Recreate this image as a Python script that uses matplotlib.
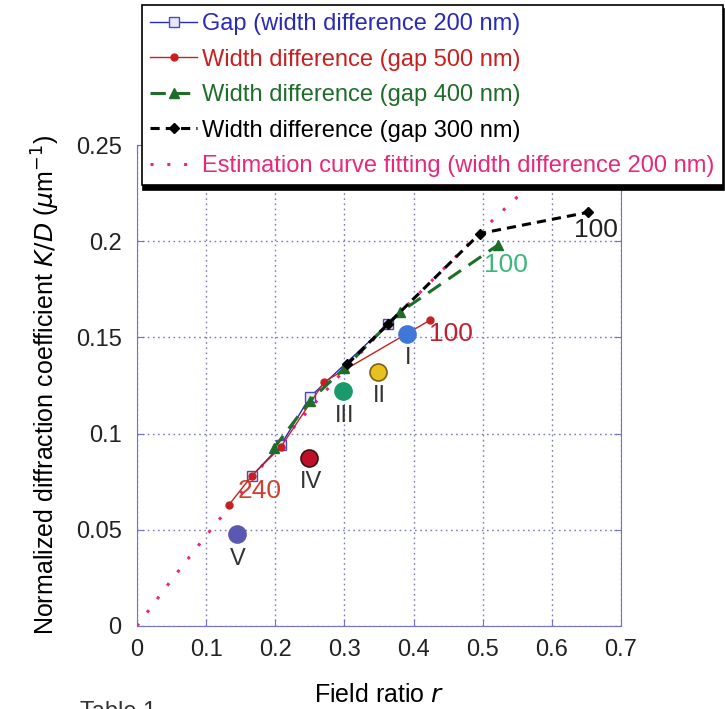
import matplotlib.pyplot as plt
import numpy as np

plt.rcParams['font.family'] = ['Liberation Sans', 'DejaVu Sans']

# gap series (width difference 200 nm)
gap_r = [0.166, 0.208, 0.250, 0.363]
gap_kd = [0.078, 0.094, 0.119, 0.157]

# width difference, gap 500 nm
w500_r = [0.133, 0.166, 0.208, 0.271, 0.424]
w500_kd = [0.063, 0.078, 0.093, 0.127, 0.159]

# width difference, gap 400 nm
w400_r = [0.198, 0.250, 0.300, 0.380, 0.522]
w400_kd = [0.0925, 0.117, 0.134, 0.163, 0.198]

# width difference, gap 300 nm
w300_r = [0.304, 0.363, 0.496, 0.652]
w300_kd = [0.136, 0.157, 0.204, 0.215]

# estimation curve
fit_r = [0, 0.05, 0.1, 0.15, 0.2, 0.25, 0.3, 0.35, 0.4, 0.45, 0.5, 0.55, 0.6]
fit_kd = [0, 0.024, 0.047, 0.069, 0.092, 0.113, 0.133, 0.152, 0.170, 0.188, 0.206, 0.223, 0.240]

# measured samples I..V
samp_names = ['I', 'II', 'III', 'IV', 'V']
samp_r = [0.390, 0.349, 0.298, 0.249, 0.144]
samp_kd = [0.152, 0.132, 0.122, 0.0875, 0.0477]
samp_col = ['#3f78d8', '#e8c020', '#1a9a6a', '#c01028', '#5a58b0']
samp_edge = ['#3f78d8', '#806010', '#1a9a6a', '#401010', '#5a58b0']

xticks = [0, 0.1, 0.2, 0.3, 0.4, 0.5, 0.6, 0.7]
yticks = [0, 0.05, 0.1, 0.15, 0.2, 0.25]

fig = plt.figure(figsize=(7.25, 7.09), dpi=100)
ax = fig.add_axes([137/725, 1-626/709, (621-137)/725, (626-145)/709])
ax.set_xlim(0, 0.7)
ax.set_ylim(0, 0.25)

spine_col = '#7070d8'
for s in ax.spines.values():
    s.set_color(spine_col)
ax.set_xticks(xticks)
ax.set_yticks(yticks)
ax.set_xticklabels(['0', '0.1', '0.2', '0.3', '0.4', '0.5', '0.6', '0.7'])
ax.set_yticklabels(['0', '0.05', '0.1', '0.15', '0.2', '0.25'])
ax.tick_params(direction='in', length=5, color=spine_col, labelsize=17,
               labelcolor='#222222', top=True, right=True, pad=11)
ax.tick_params(axis='x', pad=9)
ax.grid(True, color='#7a7ac0', linestyle=(0, (1.2, 2.5)), linewidth=1.0)

ax.plot(fit_r, fit_kd, color='#e8287a', linestyle=(0, (1, 4.5)), linewidth=2.2,
        label='Estimation curve fitting (width difference 200 nm)', zorder=2)
ax.plot(gap_r, gap_kd, color='#2a2ab8', linewidth=1.0, marker='s', markersize=7,
        markerfacecolor='#e8e8f8', markeredgecolor='#4a4ac8',
        label='Gap (width difference 200 nm)', zorder=3)
ax.plot(w500_r, w500_kd, color='#c82020', linewidth=1.0, marker='o', markersize=5,
        label='Width difference (gap 500 nm)', zorder=4)
ax.plot(w400_r, w400_kd, color='#1e6e2a', linewidth=2.2, linestyle=(0, (5, 3)),
        marker='^', markersize=7, label='Width difference (gap 400 nm)', zorder=4)
ax.plot(w300_r, w300_kd, color='black', linewidth=2.2, linestyle=(0, (3, 2)),
        marker='D', markersize=5, label='Width difference (gap 300 nm)', zorder=5)

for i in range(len(samp_r)):
    ax.scatter(samp_r[i], samp_kd[i], s=150, color=samp_col[i],
               edgecolor=samp_edge[i], linewidth=1.2, zorder=6)
    ax.text(samp_r[i] + 0.002, samp_kd[i] - 0.007, samp_names[i], ha='center',
            va='top', fontsize=17, color='#333333', zorder=7)

ax.text(w500_r[0] + 0.012, w500_kd[0] + 0.001, '240', color='#d04030',
        fontsize=19, va='bottom', ha='left')
ax.text(w500_r[-1] - 0.002, w500_kd[-1] - 0.001, '100', color='#c02030',
        fontsize=19, va='top', ha='left')
ax.text(w400_r[-1] - 0.02, w400_kd[-1] - 0.004, '100', color='#3cb87a',
        fontsize=19, va='top', ha='left')
ax.text(w300_r[-1] - 0.02, w300_kd[-1] - 0.003, '100', color='#222222',
        fontsize=19, va='top', ha='left')

ax.set_xlabel('Field ratio $\\it{r}$', fontsize=18, labelpad=16)
ax.set_ylabel('Normalized diffraction coefficient $\\it{K/D}$ ($\\mu$m$^{-1}$)',
              fontsize=18, labelpad=10)

handles, labels = ax.get_legend_handles_labels()
order = [1, 2, 3, 4, 0]
leg = fig.legend([handles[i] for i in order], [labels[i] for i in order],
                 loc='upper left', bbox_to_anchor=(142/725, 1-5/709),
                 fontsize=17, labelcolor='linecolor', frameon=True, fancybox=False,
                 shadow={'color': 'black', 'alpha': 1.0, 'ox': 1, 'oy': -3},
                 handlelength=2.0, handletextpad=0.2, labelspacing=0.57,
                 borderpad=0.35, borderaxespad=0)
leg.get_frame().set_edgecolor('black')
leg.get_frame().set_linewidth(1.2)
leg.set_zorder(10)

fig.text(80/725, 1-701/709, 'Table 1', fontsize=17, va='top', ha='left', color='#333333')

fig.savefig('out.png', dpi=100)
